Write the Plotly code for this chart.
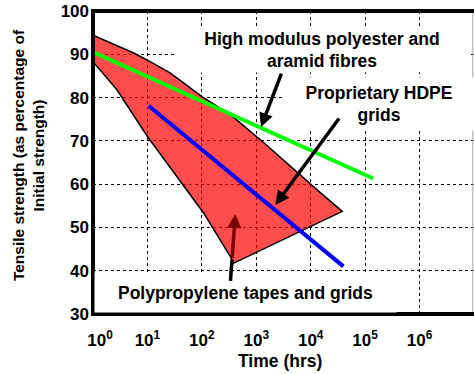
import plotly.graph_objects as go

# ---- data (time in hours, strength in % of initial) ----
poly_time = [1, 5.6, 11.2, 26, 46, 100, 330, 1175, 14800, 38000,
             380, 330, 107, 47, 10, 2.75, 1]
poly_strength = [94.4, 90.3, 88.3, 85.7, 83.4, 80.2, 76.1, 70.3, 58.1, 53.7,
                 41.7, 43.4, 53.4, 59.5, 71.0, 81.8, 88.3]

green_time = [1, 141000]
green_strength = [90.5, 61.3]

blue_time = [10.5, 39800]
blue_strength = [78.1, 41.0]

x_tick_vals = [1, 10, 100, 1000, 10000, 100000, 1000000]
x_tick_text = ["<b>&nbsp;&nbsp;&nbsp;10<sup>0</sup></b>", "<b>10<sup>1</sup></b>", "<b>10<sup>2</sup></b>",
               "<b>10<sup>3</sup></b>", "<b>10<sup>4</sup></b>", "<b>10<sup>5</sup></b>", "<b>10<sup>6</sup></b>"]
y_tick_vals = [30, 40, 50, 60, 70, 80, 90, 100]
y_tick_text = ["<b>30</b>", "<b>40</b>", "<b>50</b>", "<b>60</b>", "<b>70</b>", "<b>80</b>", "<b>90</b>", "<b>100</b>"]

label_hm = "<b>High modulus polyester and<br>aramid fibres</b>"
label_hdpe = "<b>Proprietary HDPE<br>grids</b>"
label_pp = "<b>Polypropylene tapes and grids</b>"
x_title = "<b>Time (hrs)</b>"
y_title = "<b>Tensile strength (as percentage of<br>Initial strength)</b>"

FONT = "Liberation Sans, Arial, sans-serif"

fig = go.Figure()
fig.add_trace(go.Scatter(x=poly_time, y=poly_strength, mode="lines", fill="toself",
                         fillcolor="rgba(255,0,0,0.70)",
                         line=dict(color="black", width=1.5), hoverinfo="skip"))
fig.add_trace(go.Scatter(x=green_time, y=green_strength, mode="lines",
                         line=dict(color="#00FF00", width=4)))
fig.add_trace(go.Scatter(x=blue_time, y=blue_strength, mode="lines",
                         line=dict(color="#0000FF", width=4)))

bold = dict(family=FONT, size=17.5, color="black")
ann = []
# text boxes (white background hides the grid)
ann.append(dict(x=4.21, y=90.9, xref="x", yref="y", text=label_hm, showarrow=False,
                font=bold, bgcolor="white", width=292, height=44, borderpad=0,
                xanchor="center", yanchor="middle"))
ann.append(dict(x=5.256, y=78.47, xref="x", yref="y", text=label_hdpe, showarrow=False,
                font=bold, bgcolor="white", width=192, height=52, borderpad=0,
                xanchor="center", yanchor="middle"))
ann.append(dict(x=2.807, y=35.07, xref="x", yref="y", text=label_pp, showarrow=False,
                font=bold, bgcolor="white", width=301, height=39, borderpad=0,
                xanchor="center", yanchor="middle"))
# arrows
ann.append(dict(x=3.086, y=73.2, ax=3.472, ay=85.9, xref="x", yref="y", axref="x", ayref="y",
                text="", showarrow=True, arrowhead=2, arrowsize=0.8, arrowwidth=3.5,
                arrowcolor="black", standoff=0, startstandoff=0))
ann.append(dict(x=3.349, y=55.2, ax=4.541, ay=75.5, xref="x", yref="y", axref="x", ayref="y",
                text="", showarrow=True, arrowhead=2, arrowsize=0.8, arrowwidth=3.5,
                arrowcolor="black", standoff=0, startstandoff=0))
ann.append(dict(x=2.554, y=42.55, ax=2.523, ay=37.3, xref="x", yref="y", axref="x", ayref="y",
                text="", showarrow=True, arrowhead=0, arrowwidth=3.5,
                arrowcolor="black", standoff=0, startstandoff=0))
ann.append(dict(x=2.615, y=53.1, ax=2.554, ay=42.55, xref="x", yref="y", axref="x", ayref="y",
                text="", showarrow=True, arrowhead=2, arrowsize=0.8, arrowwidth=3.5,
                arrowcolor="#7a0000", standoff=0, startstandoff=0))
# axis titles
ann.append(dict(x=-0.1704, y=0.5247, xref="paper", yref="paper", text=y_title,
                showarrow=False, textangle=-90, font=dict(family=FONT, size=15.5, color="black"),
                xanchor="center", yanchor="middle"))
ann.append(dict(x=0.4915, y=-0.156, xref="paper", yref="paper", text=x_title,
                showarrow=False, font=bold, xanchor="center", yanchor="middle"))

shapes = [
    dict(type="line", xref="paper", yref="paper", x0=0.9966, x1=0.9966, y0=0, y1=1,
         line=dict(color="#aaaaaa", width=1), layer="above"),
    dict(type="line", xref="paper", yref="paper", x0=-0.005, x1=1, y0=1, y1=1,
         line=dict(color="black", width=4), layer="above"),
    dict(type="line", xref="paper", yref="paper", x0=-0.005, x1=1, y0=0, y1=0,
         line=dict(color="black", width=4), layer="above"),
    dict(type="line", xref="paper", yref="paper", x0=0, x1=0, y0=-0.006, y1=1.006,
         line=dict(color="black", width=4), layer="above"),
]

tickfont = dict(family=FONT, size=17, color="black")
fig.update_layout(
    width=474, height=374,
    margin=dict(l=92.5, r=0, t=10.5, b=59.5),
    paper_bgcolor="white", plot_bgcolor="white",
    showlegend=False,
    annotations=ann, shapes=shapes,
    xaxis=dict(type="log", range=[0, 7], tickvals=x_tick_vals, ticktext=x_tick_text,
               showgrid=True, gridcolor="black", gridwidth=1, griddash="dot",
               zeroline=False, showline=False, ticks="", tickfont=tickfont,
               ticklabelstandoff=14, ticklabeloverflow="allow"),
    yaxis=dict(range=[30, 100], tickvals=y_tick_vals, ticktext=y_tick_text,
               showgrid=True, gridcolor="black", gridwidth=1, griddash="dot",
               zeroline=False, showline=False, ticks="", tickfont=tickfont,
               ticklabelstandoff=3, ticklabeloverflow="allow"),
)

# remove the default 8px page margin so the figure fills the window exactly
fig.write_html("out.html", config={"displayModeBar": False},
               post_script="document.body.style.margin='0';document.body.style.overflow='hidden';")
